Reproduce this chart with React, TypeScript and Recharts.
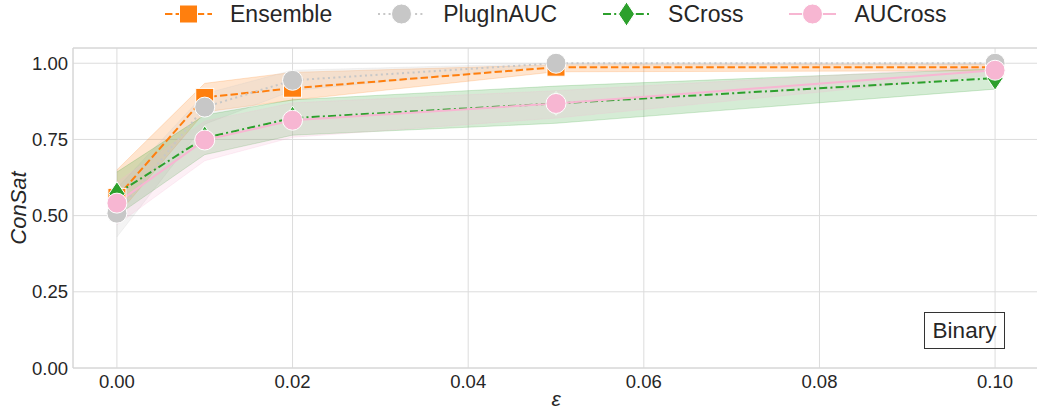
import React from 'react';
import { ComposedChart, Line, Area, XAxis, YAxis, CartesianGrid, ReferenceLine } from 'recharts';

const epsilons = [0, 0.01, 0.02, 0.05, 0.1];

const ensembleMean = [0.56, 0.888, 0.918, 0.987, 0.987];
const ensembleLow = [0.5, 0.84, 0.879, 0.972, 0.975];
const ensembleHigh = [0.65, 0.934, 0.97, 0.995, 0.996];

const pluginMean = [0.508, 0.856, 0.944, 1.0, 1.0];
const pluginLow = [0.43, 0.8, 0.91, 0.994, 0.994];
const pluginHigh = [0.59, 0.9, 0.977, 1.0, 1.0];

const scrossMean = [0.572, 0.755, 0.82, 0.868, 0.951];
const scrossLow = [0.5, 0.7, 0.764, 0.803, 0.915];
const scrossHigh = [0.643, 0.83, 0.88, 0.925, 0.982];

const aucrossMean = [0.541, 0.748, 0.813, 0.868, 0.977];
const aucrossLow = [0.47, 0.68, 0.757, 0.82, 0.962];
const aucrossHigh = [0.61, 0.81, 0.87, 0.91, 0.99];

const xTicks = [0, 0.02, 0.04, 0.06, 0.08, 0.1];
const yTicks = [0, 0.25, 0.5, 0.75, 1.0];

const seriesNames = ['Ensemble', 'PlugInAUC', 'SCross', 'AUCross'];
const annotationText = 'Binary';

const data = epsilons.map((e, i) => ({
  eps: e,
  ens: ensembleMean[i],
  ensBand: [ensembleLow[i], ensembleHigh[i]],
  plg: pluginMean[i],
  plgBand: [pluginLow[i], pluginHigh[i]],
  scr: scrossMean[i],
  scrBand: [scrossLow[i], scrossHigh[i]],
  auc: aucrossMean[i],
  aucBand: [aucrossLow[i], aucrossHigh[i]],
}));

const ORANGE = '#ff7f0e';
const GRAY = '#c7c7c7';
const GREEN = '#2ca02c';
const PINK = '#f7b6d2';
const TEXT = '#262626';
const FONT = '"Liberation Sans", Arial, sans-serif';

const DASH_ENS = '7.4 3.2';
const DASH_PLG = '2 3.3';
const DASH_SCR = '8 3.2 2 3.2';

type MarkerKind = 'square' | 'circle' | 'diamond';

function Marker({ kind, cx, cy, color }: { kind: MarkerKind; cx: number; cy: number; color: string }) {
  if (kind === 'square') {
    return <rect x={cx - 9} y={cy - 9} width={18} height={18} fill={color} stroke="#fff" strokeWidth={1} />;
  }
  if (kind === 'diamond') {
    return (
      <polygon
        points={`${cx},${cy - 12} ${cx + 8},${cy} ${cx},${cy + 12} ${cx - 8},${cy}`}
        fill={color}
        stroke="#fff"
        strokeWidth={1}
      />
    );
  }
  return <circle cx={cx} cy={cy} r={10} fill={color} stroke="#fff" strokeWidth={1} />;
}

const makeDot = (kind: MarkerKind, color: string, prefix: string) => (props: any) => {
  const { cx, cy, index } = props;
  if (cx == null || cy == null) return <g key={`${prefix}-${index}`} />;
  return (
    <g key={`${prefix}-${index}`}>
      <Marker kind={kind} cx={cx} cy={cy} color={color} />
    </g>
  );
};

const legendItems = [
  { name: seriesNames[0], color: ORANGE, dash: DASH_ENS, kind: 'square' as MarkerKind },
  { name: seriesNames[1], color: GRAY, dash: DASH_PLG, kind: 'circle' as MarkerKind },
  { name: seriesNames[2], color: GREEN, dash: DASH_SCR, kind: 'diamond' as MarkerKind },
  { name: seriesNames[3], color: PINK, dash: undefined, kind: 'circle' as MarkerKind },
];

function LegendBar() {
  return (
    <div
      style={{
        position: 'absolute',
        left: 165,
        top: 0,
        height: 28,
        display: 'flex',
        alignItems: 'center',
        fontFamily: FONT,
        fontSize: 23,
        color: TEXT,
        whiteSpace: 'nowrap',
      }}
    >
      {legendItems.map((it) => (
        <div key={it.name} style={{ display: 'flex', alignItems: 'center', marginRight: 46 }}>
          <svg width={47} height={28} style={{ display: 'block', overflow: 'visible' }}>
            <line x1={0} y1={14} x2={47} y2={14} stroke={it.color} strokeWidth={2} strokeDasharray={it.dash} />
            <Marker kind={it.kind} cx={23.5} cy={14} color={it.color} />
          </svg>
          <span style={{ marginLeft: 18, lineHeight: '28px' }}>{it.name}</span>
        </div>
      ))}
    </div>
  );
}

export default function App() {
  return (
    <div
      style={{
        position: 'absolute',
        left: 0,
        top: 0,
        width: 1037,
        height: 412,
        overflow: 'hidden',
        background: '#fff',
      }}
    >
      <ComposedChart
        width={1037}
        height={412}
        data={data}
        margin={{ top: 48, right: -2, bottom: 0, left: 0 }}
      >
        <CartesianGrid stroke="#dcdcdc" strokeWidth={1} />
        <XAxis
          dataKey="eps"
          type="number"
          domain={[-0.005, 0.105]}
          ticks={xTicks}
          tickFormatter={(v: number) => v.toFixed(2)}
          tickLine={false}
          tickSize={0}
          tickMargin={7}
          height={44}
          axisLine={{ stroke: '#d4d4d4', strokeWidth: 1 }}
          tick={{ fill: TEXT, fontSize: 18.5, fontFamily: FONT }}
          allowDataOverflow
          label={{
            content: (p: any) => {
              const vb = p.viewBox || { x: 73, y: 368, width: 966, height: 44 };
              return (
                <text
                  x={vb.x + vb.width / 2}
                  y={vb.y + 38}
                  textAnchor="middle"
                  fill={TEXT}
                  fontSize={21}
                  fontStyle="italic"
                  fontFamily={FONT}
                >
                  ε
                </text>
              );
            },
          }}
        />
        <YAxis
          type="number"
          domain={[0, 1.05]}
          ticks={yTicks}
          tickFormatter={(v: number) => v.toFixed(2)}
          tickLine={false}
          tickSize={0}
          tickMargin={5}
          width={73}
          axisLine={{ stroke: '#d4d4d4', strokeWidth: 1 }}
          tick={{ fill: TEXT, fontSize: 18.5, fontFamily: FONT }}
          allowDataOverflow
          label={{
            content: (p: any) => {
              const vb = p.viewBox || { x: 0, y: 48, width: 73, height: 320 };
              const cx = 18;
              const cy = vb.y + vb.height / 2;
              return (
                <text
                  x={cx}
                  y={cy}
                  transform={`rotate(-90 ${cx} ${cy})`}
                  textAnchor="middle"
                  dominantBaseline="central"
                  fill={TEXT}
                  fontSize={22}
                  fontStyle="italic"
                  fontFamily={FONT}
                >
                  ConSat
                </text>
              );
            },
          }}
        />
        <ReferenceLine y={1.05} stroke="#d4d4d4" strokeWidth={1} />

        <Area type="linear" dataKey="ensBand" stroke={ORANGE} strokeOpacity={0.2} strokeWidth={1} fill={ORANGE} fillOpacity={0.2} isAnimationActive={false} activeDot={false} dot={false} />
        <Area type="linear" dataKey="plgBand" stroke={GRAY} strokeOpacity={0.2} strokeWidth={1} fill={GRAY} fillOpacity={0.2} isAnimationActive={false} activeDot={false} dot={false} />
        <Area type="linear" dataKey="scrBand" stroke={GREEN} strokeOpacity={0.2} strokeWidth={1} fill={GREEN} fillOpacity={0.2} isAnimationActive={false} activeDot={false} dot={false} />
        <Area type="linear" dataKey="aucBand" stroke={PINK} strokeOpacity={0.2} strokeWidth={1} fill={PINK} fillOpacity={0.2} isAnimationActive={false} activeDot={false} dot={false} />

        <Line type="linear" dataKey="ens" name={seriesNames[0]} stroke={ORANGE} strokeWidth={2} strokeDasharray={DASH_ENS} dot={makeDot('square', ORANGE, 'ens')} activeDot={false} isAnimationActive={false} />
        <Line type="linear" dataKey="plg" name={seriesNames[1]} stroke={GRAY} strokeWidth={2} strokeDasharray={DASH_PLG} dot={makeDot('circle', GRAY, 'plg')} activeDot={false} isAnimationActive={false} />
        <Line type="linear" dataKey="scr" name={seriesNames[2]} stroke={GREEN} strokeWidth={2} strokeDasharray={DASH_SCR} dot={makeDot('diamond', GREEN, 'scr')} activeDot={false} isAnimationActive={false} />
        <Line type="linear" dataKey="auc" name={seriesNames[3]} stroke={PINK} strokeWidth={2} dot={makeDot('circle', PINK, 'auc')} activeDot={false} isAnimationActive={false} />
      </ComposedChart>

      <LegendBar />

      <div
        style={{
          position: 'absolute',
          left: 924,
          top: 312,
          width: 81,
          height: 37,
          boxSizing: 'border-box',
          border: '1px solid #333',
          display: 'flex',
          alignItems: 'center',
          justifyContent: 'center',
          fontFamily: FONT,
          fontSize: 22.5,
          color: TEXT,
        }}
      >
        {annotationText}
      </div>
    </div>
  );
}
